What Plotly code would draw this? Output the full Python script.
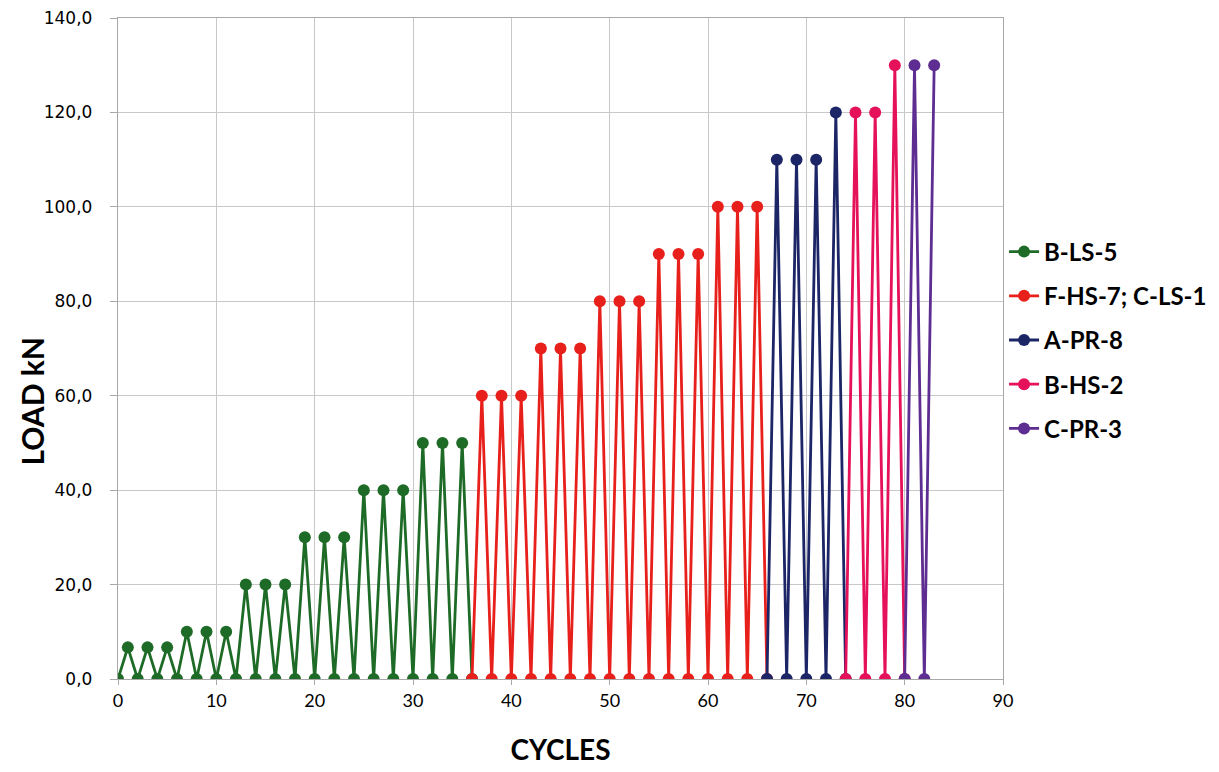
import plotly.graph_objects as go

# Data
names = ["B-LS-5", "F-HS-7; C-LS-1", "A-PR-8", "B-HS-2", "C-PR-3"]
colors = ["#1E6B27", "#E8201C", "#1C2566", "#E5115A", "#5E2D91"]

x_bls5 = list(range(0, 37))
y_bls5 = [0, 6.7, 0, 6.7, 0, 6.7, 0, 10, 0, 10, 0, 10, 0, 20, 0, 20, 0, 20, 0,
          30, 0, 30, 0, 30, 0, 40, 0, 40, 0, 40, 0, 50, 0, 50, 0, 50, 0]

x_fhs7 = list(range(36, 67))
y_fhs7 = [0, 60, 0, 60, 0, 60, 0, 70, 0, 70, 0, 70, 0, 80, 0, 80, 0, 80, 0,
          90, 0, 90, 0, 90, 0, 100, 0, 100, 0, 100, 0]

x_apr8 = list(range(66, 75))
y_apr8 = [0, 110, 0, 110, 0, 110, 0, 120, 0]

x_bhs2 = list(range(74, 81))
y_bhs2 = [0, 120, 0, 120, 0, 130, 0]

x_cpr3 = list(range(80, 84))
y_cpr3 = [0, 130, 0, 130]

xs = [x_bls5, x_fhs7, x_apr8, x_bhs2, x_cpr3]
ys = [y_bls5, y_fhs7, y_apr8, y_bhs2, y_cpr3]

y_ticks = [0, 20, 40, 60, 80, 100, 120, 140]
y_tick_text = ["0,0", "20,0", "40,0", "60,0", "80,0", "100,0", "120,0", "140,0"]
x_ticks = [0, 10, 20, 30, 40, 50, 60, 70, 80, 90]

pad = "\u00a0\u00a0\u2009"

fig = go.Figure()
for i in range(len(names)):
    fig.add_trace(go.Scatter(
        x=xs[i], y=ys[i], name=names[i], mode="lines+markers",
        line=dict(color=colors[i], width=2.8),
        marker=dict(color=colors[i], size=12),
        legendgroup=str(i),
    ))

fig.add_annotation(
    text="LOAD kN", textangle=-90, xref="paper", yref="paper",
    x=-0.097, y=0.42, xanchor="center", yanchor="middle", showarrow=False,
    font=dict(family="Lato", size=30, color="black", weight="bold"),
)

fig.update_layout(
    width=1211, height=764,
    margin=dict(l=110, r=216, t=10, b=93),
    paper_bgcolor="white", plot_bgcolor="white",
    showlegend=True,
    legend=dict(xref="container", x=0.8225, y=0.68, xanchor="left", yanchor="top",
                font=dict(family="Lato", size=24, color="black", weight="bold"),
                tracegroupgap=10, itemwidth=30, bgcolor="rgba(0,0,0,0)"),
    xaxis=dict(range=[0, 90], tickvals=x_ticks, showgrid=True, gridcolor="#C8C8C8",
               gridwidth=1, showline=True, linecolor="#A8A8A8", linewidth=1, mirror=True,
               ticks="outside", ticklen=5, tickcolor="#A8A8A8", automargin=False,
               tickfont=dict(family="Lato", size=18, color="black"),
               title=dict(text="CYCLES", standoff=30,
                          font=dict(family="Lato", size=28, color="black", weight="bold")),
               zeroline=False),
    yaxis=dict(range=[0, 140], tickvals=y_ticks, ticktext=[t + pad for t in y_tick_text],
               showgrid=True, ticklabeloverflow="allow",
               gridcolor="#C8C8C8", gridwidth=1, showline=True, linecolor="#A8A8A8",
               linewidth=1, mirror=True, ticks="outside", ticklen=7, tickcolor="#A8A8A8",
               automargin=False,
               tickfont=dict(family="DejaVu Sans", size=17, color="black"),
               zeroline=False),
)

fig.write_html("out.html")
